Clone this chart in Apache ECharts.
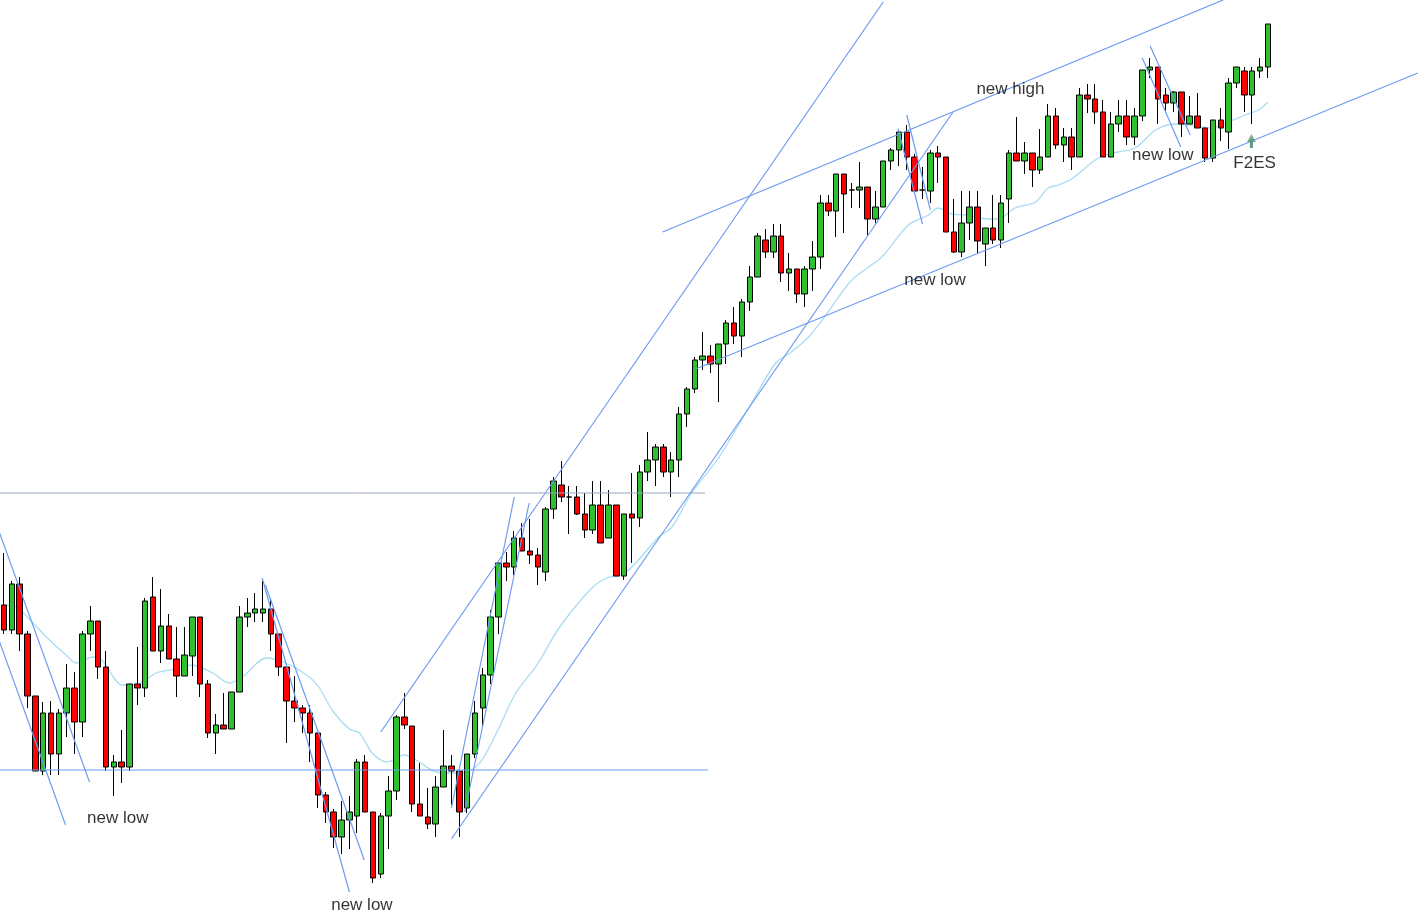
<!DOCTYPE html>
<html><head><meta charset="utf-8">
<script src="https://cdn.jsdelivr.net/npm/echarts@6/dist/echarts.min.js"></script>
<style>html,body{margin:0;padding:0;background:#fff}#c{width:1421px;height:917px}</style>
</head><body><div id="c"></div>
<script>
// OHLC: [open, close, low, high]
const candles = [
[312,287,283,364],[287,333,283,336],[333,283,266,340],[283,221,209,286],[221,146,146,221],
[146,204,142,215],[204,163,142,216],[163,204,142,208],[204,229,180,253],[229,195,163,245],
[195,283,180,286],[283,296,266,311],[296,250,238,296],[250,150,146,266],[150,155,121,162],
[155,150,134,187],[150,233,146,233],[233,229,212,270],[229,316,220,319],[320,266,266,340],
[266,291,254,328],[291,258,258,303],[258,241,220,290],[241,262,241,290],[261,300,241,300],
[300,233,220,300],[233,184,179,237],[184,192,163,203],[192,188,188,224],[188,225,188,225],
[225,300,225,311],[300,304,290,319],[304,308,295,324],[304,308,295,336],[308,283,266,319],
[283,250,241,283],[250,216,174,250],[216,209,195,241],[209,204,184,212],[204,184,155,212],
[184,122,109,184],[122,105,94,125],[105,80,69,108],[80,97,63,116],[97,105,68,121],
[101,155,84,158],[155,105,105,162],[105,39,34,105],[43,101,39,104],[101,126,68,141],
[126,200,117,202],[200,192,188,224],[191,113,105,191],[113,101,101,154],[100,93,88,129],
[93,130,80,141],[130,151,130,187],[151,146,112,162],[146,105,80,146],[109,163,104,163],
[163,204,159,216],[209,242,191,249],[242,300,233,307],[300,354,283,354],[354,350,336,365],
[350,379,342,386],[379,366,366,394],[366,362,353,398],[362,350,332,369],[345,408,336,410],
[408,436,398,440],[432,420,415,456],[420,420,383,431],[420,403,402,431],[403,387,379,424],
[387,412,383,436],[412,374,374,436],[379,412,379,427],[412,341,341,412],[341,403,337,403],
[403,399,354,444],[399,445,390,452],[445,457,436,485],[457,470,431,473],[470,445,440,473],
[445,457,420,465],[457,503,440,510],[503,528,490,530],[528,557,524,560],[557,561,547,585],
[561,553,544,572],[553,573,515,573],[573,594,553,597],[594,581,573,610],[581,615,560,618],
[615,640,606,651],[640,681,640,684],[677,665,659,688],[665,681,659,693],[681,644,635,693],
[644,648,626,664],[648,623,614,648],[623,648,610,651],[648,660,626,676],[660,714,648,722],
[714,706,701,722],[706,743,680,743],[743,723,684,743],[727,727,709,734],[727,730,709,755],
[730,698,682,730],[698,710,694,726],[710,756,710,756],[756,767,747,769],[767,785,751,788],
[785,760,747,792],[760,726,726,763],[727,727,718,750],[726,764,714,767],[764,760,734,771],
[760,685,685,760],[685,665,664,718],[665,694,660,726],[694,710,677,726],[710,676,664,726],
[673,689,651,689],[689,677,673,722],[677,714,669,722],[718,764,694,767],[764,756,756,800],
[756,764,743,775],[764,747,730,764],[747,760,743,788],[760,801,760,813],[801,772,768,809],
[772,780,755,789],[780,760,747,789],[760,822,760,829],[822,818,804,833],[818,805,793,833],
[805,760,760,817],[760,793,760,805],[793,801,785,817],[801,780,772,817],[780,801,772,809],
[801,847,796,847],[847,850,839,859],[850,818,793,850],[822,814,805,829],[814,825,805,826],
[825,793,780,825],[793,801,793,821],[801,789,789,824],[789,759,755,789],[759,797,755,797],
[797,789,776,809],[785,834,768,839],[834,850,829,850],[846,822,805,850],[822,846,793,850],
[846,850,839,859],[850,893,839,893]
];
const slotCount = 181;
const categories = Array.from({length: slotCount}, (_, i) => String(i + 1));
const maLine = [
[0,312],[1.6,310],[3.7,294],[5.8,277],[7.9,262],[9.2,254],[11.3,260],[12.2,259],[15.1,232],[16.8,232],
[19.4,244],[21.9,248],[24.0,252],[26.6,244],[28.7,234],[30.4,240],[33.4,259],[35.9,254],[38.9,240],[40.2,229],
[41.8,207],[44.0,188],[45.3,184],[46.9,164],[48.8,155],[51.0,162],[52.5,157],[55.1,145],[57.6,144],[59.3,146],
[60.9,157],[63.1,190],[65.2,224],[67.9,252],[70.7,289],[74.9,329],[77.1,340],[78.3,341],[80.0,350],[83.4,380],
[85.1,390],[87.6,424],[91.1,460],[95.3,515],[98.3,554],[100.3,565],[102.5,580],[104.7,602],[108.0,637],[111.8,660],
[115.2,692],[117.8,702],[119.0,709],[120.7,703],[122.5,702],[125.4,698],[126.7,698],[128.8,709],[131.4,715],[133.0,729],
[134.3,732],[136.0,738],[139.4,759],[141.9,765],[144.1,769],[146.7,787],[149.2,793],[151.2,792],[153.8,789],[155.6,794],
[158.1,802],[159.8,807],[161.0,815]
];
const trendLines = [
[[-0.55,384],[10.9,135]], [[-0.55,275],[7.85,92]],
[[32.9,339],[44.0,25]], [[33.3,332],[45.9,57]],
[[48.0,185],[112.0,915]], [[57.0,78],[120.9,805]],
[[57.0,109],[65.0,420]], [[58.7,105],[66.9,414]],
[[88.1,548],[180.1,844]], [[83.9,685],[155.3,917]],
[[113.9,788],[117.0,693]], [[115.0,802],[118.0,707]],
[[145.0,859],[149.9,770]], [[146.0,871],[151.1,782]],
[[-0.55,147],[89.7,147]]
];
const levelLine = [[-0.55,424],[89.3,424]];
const notes = [
{text:'new low', x:14.5, y:99},{text:'new low', x:45.6, y:12},
{text:'new low', x:118.6, y:637},{text:'new low', x:147.6, y:762},
{text:'new high', x:128.2, y:828},{text:'F2ES', x:159.3, y:754}
];
const arrowShaft = [[158.9,769],[158.9,778]];
const arrowHead = [[158.9,779]];

const chart = echarts.init(document.getElementById('c'));
const series = [{
  type:'candlestick', xAxisIndex:0, yAxisIndex:0, data:candles, barWidth:6,
  itemStyle:{color:'#2fbf2f', color0:'#ff0000', borderColor:'#000', borderColor0:'#000', borderWidth:1}
},{
  type:'line', xAxisIndex:1, yAxisIndex:0, data:maLine, symbol:'none', smooth:0.3,
  lineStyle:{color:'#a8dcf2', width:1.3}, z:1
}];
trendLines.forEach(l => series.push({type:'line', xAxisIndex:1, data:l, symbol:'none',
  lineStyle:{color:'#6d9bf0', width:1.2}, z:3}));
series.push({type:'line', xAxisIndex:1, data:levelLine, symbol:'none', lineStyle:{color:'#9aa6bd', width:1}, z:3});
series.push({type:'line', xAxisIndex:1, data:arrowShaft, symbol:'none', showSymbol:false,
  lineStyle:{color:'#5f9a7c', width:3}, z:5});
series.push({type:'scatter', xAxisIndex:1, data:arrowHead, symbol:'triangle', symbolSize:[9,8],
  itemStyle:{color:'#5f9a7c'}, z:5});
series.push({type:'scatter', xAxisIndex:1, data:notes.map(n=>({value:[n.x,n.y], name:n.text})),
  symbolSize:0, label:{show:true, position:'inside', formatter:p=>p.name, color:'#000',
  fontSize:17, fontFamily:'Liberation Sans, Arial, sans-serif'}, z:6});

chart.setOption({
  animation:false,
  grid:{left:0, top:0, width:1423, height:917},
  xAxis:[
    {type:'category', data:categories, boundaryGap:true, show:false},
    {type:'value', min:-0.5, max:slotCount-0.5, show:false}
  ],
  yAxis:{type:'value', min:0, max:917, show:false},
  series
});
</script></body></html>
